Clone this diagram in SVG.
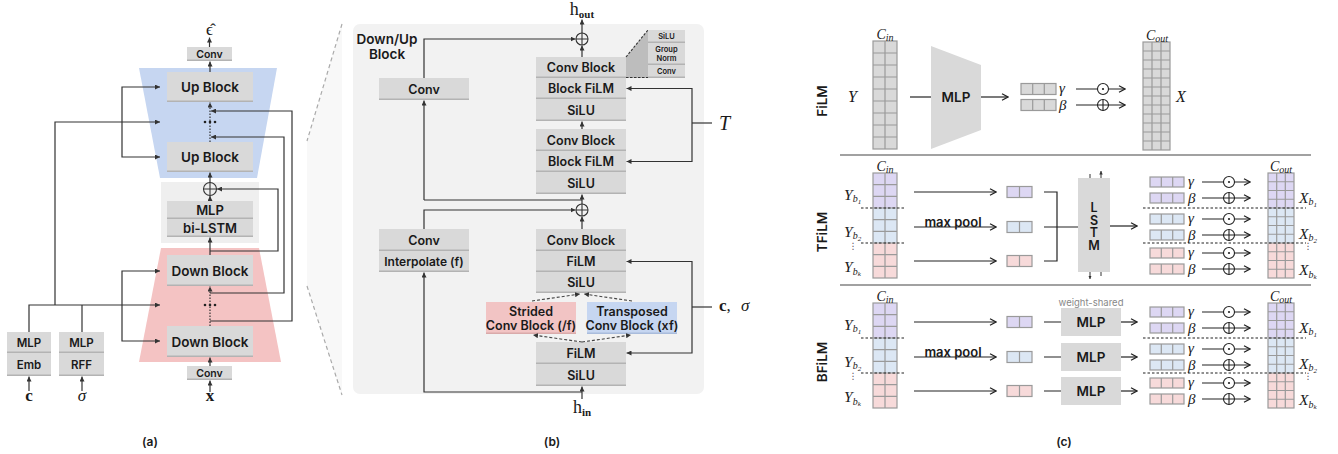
<svg xmlns="http://www.w3.org/2000/svg" width="1338" height="454" viewBox="0 0 1338 454">
<defs>
<style>
.bx{fill:#d9d9d9}
.sh{stroke:#b3b3b3;stroke-width:1.5}
.t{font-family:Inter,"Liberation Sans",sans-serif;font-weight:600;fill:#1a1a1a;text-anchor:middle;dominant-baseline:central}
.m{font-family:"Liberation Serif","DejaVu Serif",serif;fill:#1a1a1a}
.mi{font-style:italic}
.ln{fill:none;stroke:#333;stroke-width:1.2}
.dot{stroke-dasharray:1.5 1.5}
.dsh{fill:none;stroke:#444;stroke-width:1.1;stroke-dasharray:3 2}
.lc{fill:none;stroke:#222;stroke-width:1.2}
.gl{fill:none;stroke:#9a9a9a;stroke-width:1.2}
.sep{fill:none;stroke:#222;stroke-width:1.1;stroke-dasharray:2.5 2}
.op{fill:#fff;stroke:#222;stroke-width:1.1}
.opn{fill:none;stroke:#222;stroke-width:1.1}
.pu{fill:#ddd7f3}
.bl{fill:#dce7f4}
.pk{fill:#f7dada}
.gy{fill:#d9d9d9}
</style>
<marker id="ah" viewBox="0 0 6 6" refX="6" refY="3" markerWidth="5" markerHeight="5" markerUnits="userSpaceOnUse" orient="auto"><path d="M0,0L6,3L0,6z" fill="#333"/></marker>
<marker id="sa" viewBox="0 0 6 6" refX="6" refY="3" markerWidth="3.5" markerHeight="3.5" markerUnits="userSpaceOnUse" orient="auto"><path d="M0,0L6,3L0,6z" fill="#333"/></marker>
<marker id="oa" viewBox="0 0 8 8" refX="7.5" refY="4" markerWidth="8" markerHeight="8" markerUnits="userSpaceOnUse" orient="auto"><path d="M1.5,0.8L7.5,4L1.5,7.2" fill="none" stroke="#222" stroke-width="1.2"/></marker>
</defs>
<rect width="1338" height="454" fill="#fff"/>

<!-- ===== Panel (a) ===== -->
<g id="a-background">
<polygon points="139,68 277,68 257,178 160,178" fill="#c6d6f1"/>
<polygon points="161,248 259,248 281,362 139,362" fill="#f4c3c3"/>
<rect x="161" y="182" width="98" height="61" fill="#efefef"/>
</g>
<g id="a-conv-out"><rect class="bx" x="187" y="47" width="45" height="14"/><line class="sh" x1="187" y1="60.25" x2="232" y2="60.25"/><text class="t" x="209.5" y="54" font-size="10.5">Conv</text></g>
<g id="a-up1"><rect class="bx" x="167" y="72" width="86" height="30"/><line class="sh" x1="167" y1="101.25" x2="253" y2="101.25"/><text class="t" x="210" y="87" font-size="13.5">Up Block</text></g>
<g id="a-up2"><rect class="bx" x="167" y="142" width="86" height="30"/><line class="sh" x1="167" y1="171.25" x2="253" y2="171.25"/><text class="t" x="210" y="157" font-size="13.5">Up Block</text></g>
<g id="a-mlp-lstm"><rect class="bx" x="167" y="201" width="86" height="18"/><line class="sh" x1="167" y1="218.25" x2="253" y2="218.25"/><text class="t" x="210" y="210" font-size="13">MLP</text><rect class="bx" x="167" y="219" width="86" height="18"/><line class="sh" x1="167" y1="236.25" x2="253" y2="236.25"/><text class="t" x="210" y="228" font-size="13">bi-LSTM</text></g>
<g id="a-down1"><rect class="bx" x="167" y="255" width="86" height="31"/><line class="sh" x1="167" y1="285.25" x2="253" y2="285.25"/><text class="t" x="210" y="270.5" font-size="13.5">Down Block</text></g>
<g id="a-down2"><rect class="bx" x="167" y="326" width="86" height="31"/><line class="sh" x1="167" y1="356.25" x2="253" y2="356.25"/><text class="t" x="210" y="341.5" font-size="13.5">Down Block</text></g>
<g id="a-conv-in"><rect class="bx" x="187" y="366" width="45" height="14"/><line class="sh" x1="187" y1="379.25" x2="232" y2="379.25"/><text class="t" x="209.5" y="373" font-size="10.5">Conv</text></g>
<g id="a-emb"><rect class="bx" x="7" y="332" width="44" height="21"/><line class="sh" x1="7" y1="352.25" x2="51" y2="352.25"/><text class="t" x="29" y="342.5" font-size="11.5">MLP</text><rect class="bx" x="7" y="353" width="44" height="23"/><line class="sh" x1="7" y1="375.25" x2="51" y2="375.25"/><text class="t" x="29" y="364.5" font-size="11.5">Emb</text></g>
<g id="a-rff"><rect class="bx" x="59" y="332" width="45" height="21"/><line class="sh" x1="59" y1="352.25" x2="104" y2="352.25"/><text class="t" x="81.5" y="342.5" font-size="11.5">MLP</text><rect class="bx" x="59" y="353" width="45" height="23"/><line class="sh" x1="59" y1="375.25" x2="104" y2="375.25"/><text class="t" x="81.5" y="364.5" font-size="11.5">RFF</text></g>
<g id="a-plus"><circle cx="210" cy="189" r="6.5" fill="none" stroke="#333" stroke-width="1.1"/><path d="M203.5,189H216.5M210,182.5V195.5" stroke="#333" stroke-width="1.1"/></g>
<g id="a-dots" fill="#222"><circle cx="205" cy="122" r="1.3"/><circle cx="210" cy="122" r="1.3"/><circle cx="215" cy="122" r="1.3"/><circle cx="205" cy="305" r="1.3"/><circle cx="210" cy="305" r="1.3"/><circle cx="215" cy="305" r="1.3"/></g>
<g id="a-labels">
<text class="m" x="209.5" y="35" font-size="17" text-anchor="middle" font-family="DejaVu Serif">ϵ̂</text>
<text class="m" x="29" y="401" font-size="17" font-weight="bold" text-anchor="middle">c</text>
<text class="m mi" x="82" y="401" font-size="17" text-anchor="middle">σ</text>
<text class="m" x="210" y="401" font-size="17" font-weight="bold" text-anchor="middle">x</text>
<text class="t" x="150" y="441" font-size="12" font-weight="500">(a)</text>
</g>

<g id="zoom-lines">
<polygon points="307,141 342,24 342,395 307,286" fill="#f8f8f8"/>
<path d="M342,24L307,141M307,286L342,395" fill="none" stroke="#aaa" stroke-width="1.2" stroke-dasharray="4 3"/>
</g>

<!-- ===== Panel (b) ===== -->
<g id="b-panel"><rect x="353" y="24" width="351" height="370" rx="7" fill="#f2f2f2"/>
<text class="t" x="387" y="39" font-size="13.5">Down/Up</text><text class="t" x="387" y="54" font-size="13.5">Block</text></g>
<g id="b-conv-skip"><rect class="bx" x="379" y="78" width="90" height="22"/><line class="sh" x1="379" y1="99.25" x2="469" y2="99.25"/><text class="t" x="424" y="89" font-size="12.5">Conv</text></g>
<g id="b-inset-link"><polygon points="626,57 648,30 648,78 626,78" fill="#bdbdbd"/><path d="M626,57L648,30M626,77.5H648" fill="none" stroke="#333" stroke-width="1.1" stroke-dasharray="2.5 1.5"/></g>
<g id="b-block1"><rect class="bx" x="536" y="57" width="90" height="21"/><line class="sh" x1="536" y1="77.25" x2="626" y2="77.25"/><text class="t" x="581" y="67.5" font-size="12.5">Conv Block</text>
<rect class="bx" x="536" y="78" width="90" height="21"/><line class="sh" x1="536" y1="98.25" x2="626" y2="98.25"/><text class="t" x="581" y="88.5" font-size="12.5">Block FiLM</text>
<rect class="bx" x="536" y="99" width="90" height="22"/><line class="sh" x1="536" y1="120.25" x2="626" y2="120.25"/><text class="t" x="581" y="110" font-size="12.5">SiLU</text></g>
<g id="b-inset"><rect class="bx" x="648" y="30" width="37" height="13"/><line class="sh" x1="648" y1="42.25" x2="685" y2="42.25"/><text class="t" x="666.5" y="36.5" font-size="7.5">SiLU</text>
<rect class="bx" x="648" y="43" width="37" height="22"/><line class="sh" x1="648" y1="64.25" x2="685" y2="64.25"/><text class="t" x="666.5" y="49.5" font-size="7.5">Group</text><text class="t" x="666.5" y="58" font-size="7.5">Norm</text>
<rect class="bx" x="648" y="65" width="37" height="13"/><line class="sh" x1="648" y1="77.25" x2="685" y2="77.25"/><text class="t" x="666.5" y="71.5" font-size="7.5">Conv</text></g>
<g id="b-block2"><rect class="bx" x="536" y="129" width="90" height="22"/><line class="sh" x1="536" y1="150.25" x2="626" y2="150.25"/><text class="t" x="581" y="140" font-size="12.5">Conv Block</text>
<rect class="bx" x="536" y="151" width="90" height="21"/><line class="sh" x1="536" y1="171.25" x2="626" y2="171.25"/><text class="t" x="581" y="161.5" font-size="12.5">Block FiLM</text>
<rect class="bx" x="536" y="172" width="90" height="22"/><line class="sh" x1="536" y1="193.25" x2="626" y2="193.25"/><text class="t" x="581" y="183" font-size="12.5">SiLU</text></g>
<g id="b-interp"><rect class="bx" x="379" y="229" width="90" height="22"/><line class="sh" x1="379" y1="250.25" x2="469" y2="250.25"/><text class="t" x="424" y="240" font-size="12.5">Conv</text>
<rect class="bx" x="379" y="251" width="90" height="21"/><line class="sh" x1="379" y1="271.25" x2="469" y2="271.25"/><text class="t" x="424" y="261.5" font-size="12">Interpolate (f)</text></g>
<g id="b-block3"><rect class="bx" x="536" y="229" width="90" height="22"/><line class="sh" x1="536" y1="250.25" x2="626" y2="250.25"/><text class="t" x="581" y="240" font-size="12.5">Conv Block</text>
<rect class="bx" x="536" y="251" width="90" height="21"/><line class="sh" x1="536" y1="271.25" x2="626" y2="271.25"/><text class="t" x="581" y="261.5" font-size="12.5">FiLM</text>
<rect class="bx" x="536" y="272" width="90" height="21"/><line class="sh" x1="536" y1="292.25" x2="626" y2="292.25"/><text class="t" x="581" y="282.5" font-size="12.5">SiLU</text></g>
<g id="b-strided"><rect x="486" y="302" width="90" height="32" fill="#f2c4c4"/><line x1="486" y1="333.25" x2="576" y2="333.25" stroke="#d9aaaa" stroke-width="1.5"/><text class="t" x="531" y="311" font-size="12.5">Strided</text><text class="t" x="531" y="325" font-size="12.5">Conv Block (/f)</text></g>
<g id="b-transposed"><rect x="587" y="302" width="90" height="32" fill="#c6d6f1"/><line x1="587" y1="333.25" x2="677" y2="333.25" stroke="#a9bcdc" stroke-width="1.5"/><text class="t" x="632" y="311" font-size="12.5">Transposed</text><text class="t" x="632" y="325" font-size="12.5">Conv Block (xf)</text></g>
<g id="b-block4"><rect class="bx" x="536" y="342" width="90" height="22"/><line class="sh" x1="536" y1="363.25" x2="626" y2="363.25"/><text class="t" x="581" y="353" font-size="12.5">FiLM</text>
<rect class="bx" x="536" y="364" width="90" height="22"/><line class="sh" x1="536" y1="385.25" x2="626" y2="385.25"/><text class="t" x="581" y="375" font-size="12.5">SiLU</text></g>
<g id="b-plus-top"><circle cx="582" cy="39" r="6" fill="none" stroke="#333" stroke-width="1.1"/><path d="M576,39H588M582,33V45" stroke="#333" stroke-width="1.1"/></g>
<g id="b-plus-mid"><circle cx="582" cy="210" r="6" fill="none" stroke="#333" stroke-width="1.1"/><path d="M576,210H588M582,204V216" stroke="#333" stroke-width="1.1"/></g>
<g id="b-labels">
<text class="m" x="582" y="15" font-size="18" text-anchor="middle">h<tspan font-size="11" font-weight="bold" dy="3">out</tspan></text>
<text class="m" x="582" y="413" font-size="18" text-anchor="middle">h<tspan font-size="11" font-weight="bold" dy="3">in</tspan></text>
<text class="m mi" x="719" y="130" font-size="20">T</text>
<text class="m" x="719" y="311" font-size="17"><tspan font-weight="bold">c</tspan>,<tspan class="mi" x="741">σ</tspan></text>
<text class="t" x="552" y="441" font-size="12" font-weight="500">(b)</text>
</g>

<!-- ===== Panel (c) ===== -->
<g id="c-titles">
<text class="t" font-size="13.5" transform="translate(822,101) rotate(-90)">FiLM</text>
<text class="t" font-size="13.5" transform="translate(822,232) rotate(-90)">TFiLM</text>
<text class="t" font-size="13.5" transform="translate(822,362) rotate(-90)">BFiLM</text>
<path d="M840,155H1311M840,285H1311" stroke="#444" stroke-width="1.1"/>
<text class="t" x="1064" y="441" font-size="12" font-weight="500">(c)</text>
</g>

<!-- FiLM -->
<g id="f-cin">
<rect class="gy" x="873" y="41" width="24" height="108"/>
<path class="gl" d="M885,41V149M873,53H897M873,65H897M873,77H897M873,89H897M873,101H897M873,113H897M873,125H897M873,137H897"/>
<rect class="gl" x="873" y="41" width="24" height="108"/>
<text class="m mi" x="885" y="39" font-size="14" text-anchor="middle">C<tspan font-size="10" dy="2">in</tspan></text>
<text class="m mi" x="848" y="101.5" font-size="16">Y</text>
</g>
<g id="f-mlp"><polygon class="gy" points="931,46 981,65 981,130 931,149"/><text class="t" x="956" y="97" font-size="13.5">MLP</text></g>
<g id="f-gb">
<rect class="gy" x="1021" y="83.5" width="35" height="11"/><rect class="gy" x="1021" y="99.5" width="35" height="11"/>
<path class="gl" d="M1032.7,83.5V94.5M1044.3,83.5V94.5M1032.7,99.5V110.5M1044.3,99.5V110.5"/>
<rect class="gl" x="1021" y="83.5" width="35" height="11"/><rect class="gl" x="1021" y="99.5" width="35" height="11"/>
<text class="m mi" x="1059" y="93" font-size="15">γ</text><text class="m mi" x="1059" y="109.5" font-size="15">β</text>
</g>
<g id="f-cout">
<rect class="gy" x="1143" y="42" width="27" height="108"/>
<path class="gl" d="M1152,42V150M1161,42V150M1143,51H1170M1143,60H1170M1143,69H1170M1143,78H1170M1143,87H1170M1143,96H1170M1143,105H1170M1143,114H1170M1143,123H1170M1143,132H1170M1143,141H1170"/>
<rect class="gl" x="1143" y="42" width="27" height="108"/>
<text class="m mi" x="1157" y="39.5" font-size="14" text-anchor="middle">C<tspan font-size="10" dy="2">out</tspan></text>
<text class="m mi" x="1176" y="102" font-size="16">X</text>
</g>

<!-- TFiLM -->
<g id="t-cin">
<rect class="pu" x="873" y="173" width="24" height="35"/><rect class="bl" x="873" y="208" width="24" height="35"/><rect class="pk" x="873" y="243" width="24" height="35"/>
<path class="gl" d="M885,173V278M873,184.7H897M873,196.3H897M873,208H897M873,219.7H897M873,231.3H897M873,243H897M873,254.7H897M873,266.3H897"/>
<rect class="gl" x="873" y="173" width="24" height="105"/>
<text class="m mi" x="885" y="171" font-size="14" text-anchor="middle">C<tspan font-size="10" dy="2">in</tspan></text>
<text class="m mi" x="844" y="199.5" font-size="15.5">Y<tspan font-size="10" dy="2.5">b</tspan><tspan font-size="7" dy="1.5">1</tspan></text>
<text class="m mi" x="844" y="236.5" font-size="15.5">Y<tspan font-size="10" dy="2.5">b</tspan><tspan font-size="7" dy="1.5">2</tspan></text>
<text x="853" y="249" font-size="9" fill="#555" font-family="DejaVu Sans" text-anchor="middle">⋮</text>
<text class="m mi" x="844" y="272" font-size="15.5">Y<tspan font-size="10" dy="2.5">b</tspan><tspan font-size="7" dy="1.5">k</tspan></text>
<text class="t" x="953" y="222" font-size="13" font-weight="500">max pool</text>
</g>
<g id="t-pooled">
<rect class="pu" x="1007" y="186.5" width="25" height="11"/><rect class="bl" x="1007" y="221.5" width="25" height="11"/><rect class="pk" x="1007" y="255.5" width="25" height="11"/>
<path class="gl" d="M1019.5,186.5V197.5M1019.5,221.5V232.5M1019.5,255.5V266.5"/>
<rect class="gl" x="1007" y="186.5" width="25" height="11"/><rect class="gl" x="1007" y="221.5" width="25" height="11"/><rect class="gl" x="1007" y="255.5" width="25" height="11"/>
</g>
<g id="t-lstm"><rect class="gy" x="1078" y="178" width="32" height="94"/><text class="t" font-size="12.5"><tspan x="1094" y="207">L</tspan><tspan x="1094" y="219.5">S</tspan><tspan x="1094" y="232">T</tspan><tspan x="1094" y="245">M</tspan></text></g>
<g id="t-gb">
<rect class="pu" x="1150" y="177" width="34" height="10"/><rect class="pu" x="1150" y="193" width="34" height="10"/>
<rect class="bl" x="1150" y="214" width="34" height="10"/><rect class="bl" x="1150" y="230" width="34" height="10"/>
<rect class="pk" x="1150" y="248" width="34" height="10"/><rect class="pk" x="1150" y="264" width="34" height="10"/>
<path class="gl" d="M1161.3,177V187M1172.7,177V187M1161.3,193V203M1172.7,193V203M1161.3,214V224M1172.7,214V224M1161.3,230V240M1172.7,230V240M1161.3,248V258M1172.7,248V258M1161.3,264V274M1172.7,264V274"/>
<g class="gl"><rect x="1150" y="177" width="34" height="10"/><rect x="1150" y="193" width="34" height="10"/><rect x="1150" y="214" width="34" height="10"/><rect x="1150" y="230" width="34" height="10"/><rect x="1150" y="248" width="34" height="10"/><rect x="1150" y="264" width="34" height="10"/></g>
<text class="m mi" x="1188" y="186" font-size="15">γ</text><text class="m mi" x="1188" y="202.5" font-size="15">β</text>
<text class="m mi" x="1188" y="223" font-size="15">γ</text><text class="m mi" x="1188" y="239.5" font-size="15">β</text>
<text class="m mi" x="1188" y="257" font-size="15">γ</text><text class="m mi" x="1188" y="273.5" font-size="15">β</text>
</g>
<g id="t-cout">
<rect class="pu" x="1268" y="173" width="26" height="35"/><rect class="bl" x="1268" y="208" width="26" height="35"/><rect class="pk" x="1268" y="243" width="26" height="35"/>
<path class="gl" d="M1276.7,173V278M1285.3,173V278M1268,181.75H1294M1268,190.5H1294M1268,199.25H1294M1268,208H1294M1268,216.75H1294M1268,225.5H1294M1268,234.25H1294M1268,243H1294M1268,251.75H1294M1268,260.5H1294M1268,269.25H1294"/>
<rect class="gl" x="1268" y="173" width="26" height="105"/>
<text class="m mi" x="1281" y="171" font-size="14" text-anchor="middle">C<tspan font-size="10" dy="2">out</tspan></text>
<text class="m mi" x="1299" y="202.5" font-size="15.5">X<tspan font-size="10" dy="2.5">b</tspan><tspan font-size="7" dy="1.5">1</tspan></text>
<text class="m mi" x="1299" y="238.5" font-size="15.5">X<tspan font-size="10" dy="2.5">b</tspan><tspan font-size="7" dy="1.5">2</tspan></text>
<text x="1308" y="249" font-size="9" fill="#555" font-family="DejaVu Sans" text-anchor="middle">⋮</text>
<text class="m mi" x="1299" y="275" font-size="15.5">X<tspan font-size="10" dy="2.5">b</tspan><tspan font-size="7" dy="1.5">k</tspan></text>
</g>

<!-- BFiLM -->
<g id="b2-cin">
<rect class="pu" x="873" y="303" width="24" height="35"/><rect class="bl" x="873" y="338" width="24" height="35"/><rect class="pk" x="873" y="373" width="24" height="35"/>
<path class="gl" d="M885,303V408M873,314.7H897M873,326.3H897M873,338H897M873,349.7H897M873,361.3H897M873,373H897M873,384.7H897M873,396.3H897"/>
<rect class="gl" x="873" y="303" width="24" height="105"/>
<text class="m mi" x="885" y="301" font-size="14" text-anchor="middle">C<tspan font-size="10" dy="2">in</tspan></text>
<text class="m mi" x="844" y="329.5" font-size="15.5">Y<tspan font-size="10" dy="2.5">b</tspan><tspan font-size="7" dy="1.5">1</tspan></text>
<text class="m mi" x="844" y="366.5" font-size="15.5">Y<tspan font-size="10" dy="2.5">b</tspan><tspan font-size="7" dy="1.5">2</tspan></text>
<text x="853" y="379" font-size="9" fill="#555" font-family="DejaVu Sans" text-anchor="middle">⋮</text>
<text class="m mi" x="844" y="402" font-size="15.5">Y<tspan font-size="10" dy="2.5">b</tspan><tspan font-size="7" dy="1.5">k</tspan></text>
<text class="t" x="953" y="352" font-size="13" font-weight="500">max pool</text>
</g>
<g id="b2-pooled">
<rect class="pu" x="1007" y="316.5" width="25" height="11"/><rect class="bl" x="1007" y="351.5" width="25" height="11"/><rect class="pk" x="1007" y="385.5" width="25" height="11"/>
<path class="gl" d="M1019.5,316.5V327.5M1019.5,351.5V362.5M1019.5,385.5V396.5"/>
<rect class="gl" x="1007" y="316.5" width="25" height="11"/><rect class="gl" x="1007" y="351.5" width="25" height="11"/><rect class="gl" x="1007" y="385.5" width="25" height="11"/>
</g>
<g id="b2-mlp1"><rect class="gy" x="1061" y="308" width="60" height="28"/><text class="t" x="1091" y="322" font-size="13.5">MLP</text></g>
<g id="b2-mlp2"><rect class="gy" x="1061" y="343" width="60" height="28"/><text class="t" x="1091" y="357" font-size="13.5">MLP</text></g>
<g id="b2-mlp3"><rect class="gy" x="1061" y="377" width="60" height="28"/><text class="t" x="1091" y="391" font-size="13.5">MLP</text></g>
<text x="1091" y="302" font-size="9.5" fill="#888" font-family="Inter,'Liberation Sans',sans-serif" text-anchor="middle" dominant-baseline="central">weight-shared</text>
<g id="b2-gb">
<rect class="pu" x="1150" y="307" width="34" height="10"/><rect class="pu" x="1150" y="323" width="34" height="10"/>
<rect class="bl" x="1150" y="344" width="34" height="10"/><rect class="bl" x="1150" y="360" width="34" height="10"/>
<rect class="pk" x="1150" y="378" width="34" height="10"/><rect class="pk" x="1150" y="394" width="34" height="10"/>
<path class="gl" d="M1161.3,307V317M1172.7,307V317M1161.3,323V333M1172.7,323V333M1161.3,344V354M1172.7,344V354M1161.3,360V370M1172.7,360V370M1161.3,378V388M1172.7,378V388M1161.3,394V404M1172.7,394V404"/>
<g class="gl"><rect x="1150" y="307" width="34" height="10"/><rect x="1150" y="323" width="34" height="10"/><rect x="1150" y="344" width="34" height="10"/><rect x="1150" y="360" width="34" height="10"/><rect x="1150" y="378" width="34" height="10"/><rect x="1150" y="394" width="34" height="10"/></g>
<text class="m mi" x="1188" y="316" font-size="15">γ</text><text class="m mi" x="1188" y="332.5" font-size="15">β</text>
<text class="m mi" x="1188" y="353" font-size="15">γ</text><text class="m mi" x="1188" y="369.5" font-size="15">β</text>
<text class="m mi" x="1188" y="387" font-size="15">γ</text><text class="m mi" x="1188" y="403.5" font-size="15">β</text>
</g>
<g id="b2-cout">
<rect class="pu" x="1268" y="303" width="26" height="35"/><rect class="bl" x="1268" y="338" width="26" height="35"/><rect class="pk" x="1268" y="373" width="26" height="35"/>
<path class="gl" d="M1276.7,303V408M1285.3,303V408M1268,311.75H1294M1268,320.5H1294M1268,329.25H1294M1268,338H1294M1268,346.75H1294M1268,355.5H1294M1268,364.25H1294M1268,373H1294M1268,381.75H1294M1268,390.5H1294M1268,399.25H1294"/>
<rect class="gl" x="1268" y="303" width="26" height="105"/>
<text class="m mi" x="1281" y="301" font-size="14" text-anchor="middle">C<tspan font-size="10" dy="2">out</tspan></text>
<text class="m mi" x="1299" y="332.5" font-size="15.5">X<tspan font-size="10" dy="2.5">b</tspan><tspan font-size="7" dy="1.5">1</tspan></text>
<text class="m mi" x="1299" y="368.5" font-size="15.5">X<tspan font-size="10" dy="2.5">b</tspan><tspan font-size="7" dy="1.5">2</tspan></text>
<text x="1308" y="379" font-size="9" fill="#555" font-family="DejaVu Sans" text-anchor="middle">⋮</text>
<text class="m mi" x="1299" y="405" font-size="15.5">X<tspan font-size="10" dy="2.5">b</tspan><tspan font-size="7" dy="1.5">k</tspan></text>
</g>

<!-- ===== Connectors ===== -->
<g id="connectors">
<!-- panel a -->
<path class="ln" d="M209.5,47V37.5" marker-end="url(#ah)"/>
<path class="ln" d="M210,72V61.5" marker-end="url(#ah)"/>
<path class="ln dot" d="M210,142V102.5" marker-end="url(#ah)"/>
<path class="ln" d="M210,182.5V172.5" marker-end="url(#ah)"/>
<path class="ln" d="M210,201V196" marker-end="url(#ah)"/>
<path class="ln" d="M210,255V237.5" marker-end="url(#ah)"/>
<path class="ln dot" d="M210,326V286.5" marker-end="url(#ah)"/>
<path class="ln" d="M210,366V357.5" marker-end="url(#ah)"/>
<path class="ln" d="M210,392V380.5" marker-end="url(#ah)"/>
<path class="ln" d="M29,391V376.5" marker-end="url(#ah)"/>
<path class="ln" d="M82,391V376.5" marker-end="url(#ah)"/>
<path class="ln" d="M122,122V87H160" marker-end="url(#ah)"/>
<path class="ln" d="M122,122V157H160" marker-end="url(#ah)"/>
<path class="ln" d="M122,306V271H160" marker-end="url(#ah)"/>
<path class="ln" d="M122,306V341H160" marker-end="url(#ah)"/>
<path class="ln" d="M55,305V122H160" marker-end="url(#ah)"/>
<path class="ln" d="M29,332V305H160" marker-end="url(#ah)"/>
<path class="ln" d="M82,332V305"/>
<path class="ln" d="M210,321H292V111H211" marker-end="url(#ah)"/>
<path class="ln" d="M210,293H284V137H211" marker-end="url(#ah)"/>
<path class="ln" d="M210,251H278V189H217" marker-end="url(#ah)"/>
<!-- panel b -->
<path class="ln" d="M582,57V45.5" marker-end="url(#ah)"/>
<path class="ln" d="M582,33V19.5" marker-end="url(#ah)"/>
<path class="ln" d="M424,78V39H575.5" marker-end="url(#ah)"/>
<path class="ln" d="M424,200V100.5" marker-end="url(#ah)"/>
<path class="ln" d="M582,204V194.5" marker-end="url(#ah)"/>
<path class="ln" d="M582,200H424"/>
<path class="ln" d="M582,129V121.5" marker-end="url(#ah)"/>
<path class="ln" d="M692,123V88.5H626.5" marker-end="url(#ah)"/>
<path class="ln" d="M692,123V161.5H626.5" marker-end="url(#ah)"/>
<path class="ln" d="M692,123H712"/>
<path class="ln" d="M424,229V210H575.5" marker-end="url(#ah)"/>
<path class="ln" d="M582,229V216.5" marker-end="url(#ah)"/>
<path class="dsh" d="M532,301L580,294" marker-end="url(#ah)"/>
<path class="dsh" d="M632,301L584,294" marker-end="url(#ah)"/>
<path class="dsh" d="M582,342L533,335" marker-end="url(#ah)"/>
<path class="dsh" d="M582,342L631,335" marker-end="url(#ah)"/>
<path class="ln" d="M692,307V261.5H626.5" marker-end="url(#ah)"/>
<path class="ln" d="M692,307V353H626.5" marker-end="url(#ah)"/>
<path class="ln" d="M692,307H712"/>
<path class="ln" d="M582,399V386.5" marker-end="url(#ah)"/>
<path class="ln" d="M582,392H424V272.5" marker-end="url(#ah)"/>
<!-- panel c: FiLM -->
<path class="lc" d="M910,97H931"/>
<path class="lc" d="M981,97H1008" marker-end="url(#oa)"/>
<path class="lc" d="M1076,89H1125" marker-end="url(#oa)"/>
<path class="lc" d="M1076,105H1125" marker-end="url(#oa)"/>
<!-- TFiLM -->
<path class="lc" d="M914,192H996" marker-end="url(#oa)"/>
<path class="lc" d="M914,227H996" marker-end="url(#oa)"/>
<path class="lc" d="M914,261H996" marker-end="url(#oa)"/>
<path class="lc" d="M1044,192H1057V261H1044M1044,227H1078"/>
<path class="lc" d="M1110,226H1137" marker-end="url(#oa)"/>
<path d="M1090,178V174M1101,276V272" stroke="#333" stroke-width="1"/>
<path d="M1101,178V171" stroke="#333" stroke-width="1" marker-end="url(#sa)"/>
<path d="M1090,272V279" stroke="#333" stroke-width="1" marker-end="url(#sa)"/>
<path class="lc" d="M1202,182H1250" marker-end="url(#oa)"/><path class="lc" d="M1202,198H1250" marker-end="url(#oa)"/>
<path class="lc" d="M1202,219H1250" marker-end="url(#oa)"/><path class="lc" d="M1202,235H1250" marker-end="url(#oa)"/>
<path class="lc" d="M1202,253H1250" marker-end="url(#oa)"/><path class="lc" d="M1202,269H1250" marker-end="url(#oa)"/>
<path class="sep" d="M861,208H905M861,243H905M1143,208H1306M1143,243H1306"/>
<!-- BFiLM -->
<path class="lc" d="M914,322H996" marker-end="url(#oa)"/>
<path class="lc" d="M914,357H996" marker-end="url(#oa)"/>
<path class="lc" d="M914,391H996" marker-end="url(#oa)"/>
<path class="lc" d="M1044,322H1061M1044,357H1061M1044,391H1061"/>
<path class="lc" d="M1121,322H1137" marker-end="url(#oa)"/>
<path class="lc" d="M1121,357H1137" marker-end="url(#oa)"/>
<path class="lc" d="M1121,391H1137" marker-end="url(#oa)"/>
<path class="lc" d="M1202,312H1250" marker-end="url(#oa)"/><path class="lc" d="M1202,328H1250" marker-end="url(#oa)"/>
<path class="lc" d="M1202,349H1250" marker-end="url(#oa)"/><path class="lc" d="M1202,365H1250" marker-end="url(#oa)"/>
<path class="lc" d="M1202,383H1250" marker-end="url(#oa)"/><path class="lc" d="M1202,399H1250" marker-end="url(#oa)"/>
<path class="sep" d="M861,338H905M861,373H905M1143,338H1306M1143,373H1306"/>
</g>

<!-- operators -->
<g id="c-ops">
<circle class="op" cx="1103" cy="89" r="5.5"/><circle cx="1103" cy="89" r="1.1" fill="#222"/>
<circle class="opn" cx="1103" cy="105" r="5.5"/><path d="M1103,99.5V110.5" stroke="#222" stroke-width="1.1"/>
<circle class="op" cx="1229" cy="182" r="5.5"/><circle cx="1229" cy="182" r="1.1" fill="#222"/>
<circle class="opn" cx="1229" cy="198" r="5.5"/><path d="M1229,192.5V203.5" stroke="#222" stroke-width="1.1"/>
<circle class="op" cx="1229" cy="219" r="5.5"/><circle cx="1229" cy="219" r="1.1" fill="#222"/>
<circle class="opn" cx="1229" cy="235" r="5.5"/><path d="M1229,229.5V240.5" stroke="#222" stroke-width="1.1"/>
<circle class="op" cx="1229" cy="253" r="5.5"/><circle cx="1229" cy="253" r="1.1" fill="#222"/>
<circle class="opn" cx="1229" cy="269" r="5.5"/><path d="M1229,263.5V274.5" stroke="#222" stroke-width="1.1"/>
<circle class="op" cx="1229" cy="312" r="5.5"/><circle cx="1229" cy="312" r="1.1" fill="#222"/>
<circle class="opn" cx="1229" cy="328" r="5.5"/><path d="M1229,322.5V333.5" stroke="#222" stroke-width="1.1"/>
<circle class="op" cx="1229" cy="349" r="5.5"/><circle cx="1229" cy="349" r="1.1" fill="#222"/>
<circle class="opn" cx="1229" cy="365" r="5.5"/><path d="M1229,359.5V370.5" stroke="#222" stroke-width="1.1"/>
<circle class="op" cx="1229" cy="383" r="5.5"/><circle cx="1229" cy="383" r="1.1" fill="#222"/>
<circle class="opn" cx="1229" cy="399" r="5.5"/><path d="M1229,393.5V404.5" stroke="#222" stroke-width="1.1"/>
</g>
</svg>
